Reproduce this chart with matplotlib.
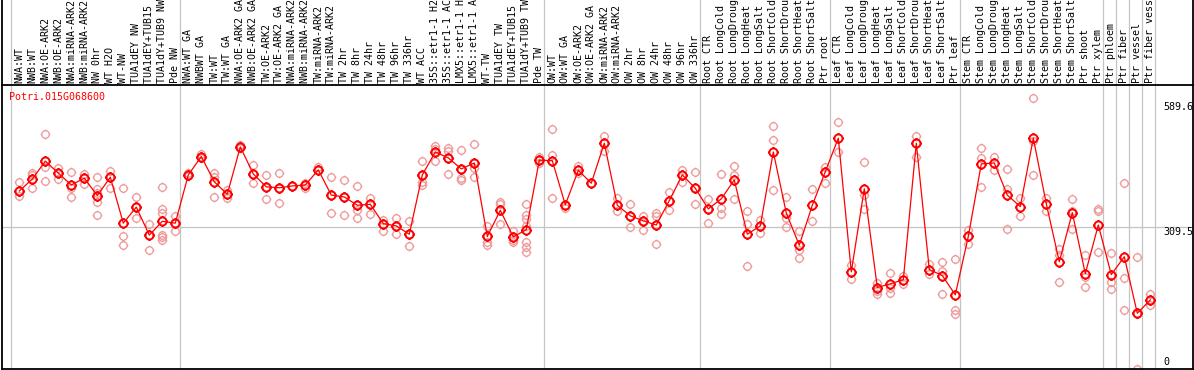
import matplotlib
matplotlib.use("Agg")
import matplotlib.pyplot as plt
from matplotlib.path import Path
from matplotlib.lines import Line2D

# ---------------- data ----------------
title = "Potri.015G068600"

nw_labels = ["NWA:WT", "NWB:WT", "NWA:OE-ARK2", "NWB:OE-ARK2", "NWA:miRNA-ARK2",
             "NWB:miRNA-ARK2", "NW 0hr", "WT H2O", "WT-NW", "TUA1dEY NW",
             "TUA1dEY+TUB15 NW", "TUA1dY+TUB9 NW", "Pde NW"]
nw_means = [388, 414, 453, 427, 401, 416, 378, 418, 318, 353, 292, 322, 318]
nw_reps = [[407, 387, 378], [428, 423, 394], [512, 440, 410], [439, 427, 414],
           [429, 394, 376], [425, 416, 403], [418, 393, 384, 365, 336],
           [432, 418, 394], [394, 289, 270], [376, 353, 329], [316, 292, 259],
           [396, 349, 340, 293, 288, 282], [333, 318, 302]]

tw_labels = ["NWA:WT GA", "NWBWT GA", "TW:WT", "TW:WT GA", "NWA:OE-ARK2 GA",
             "NWB:OE-ARK2 GA", "TW:OE-ARK2", "TW:OE-ARK2 GA", "NWA:miRNA-ARK2 GA",
             "NWB:miRNA-ARK2 GA", "TW:miRNA-ARK2", "TW:miRNA-ARK2 GA", "TW 2hr",
             "TW 8hr", "TW 24hr", "TW 48hr", "TW 96hr", "TW 336hr", "WT ACC",
             "35S::etr1-1 H2O", "35S::etr1-1 ACC", "LMX5::etr1-1 H2O",
             "LMX5::etr1-1 ACC", "WT-TW", "TUA1dEY TW", "TUA1dEY+TUB15 TW",
             "TUA1dY+TUB9 TW", "Pde TW"]
tw_means = [423, 463, 408, 381, 484, 425, 397, 395, 399, 401, 434, 379, 375, 357,
            359, 317, 312, 294, 423, 473, 460, 436, 449, 289, 346, 288, 304, 455]
tw_reps = [[427, 421], [469, 460], [427, 418, 375], [391, 381, 372], [489, 481],
           [445, 425, 405], [423, 397, 371], [428, 395, 362], [399], [405, 394],
           [440, 434], [418, 379, 340], [412, 375, 336], [399, 357, 346, 329],
           [372, 359, 338], [325, 317, 301], [330, 312, 294], [323, 294, 269],
           [454, 423, 408, 402], [485, 479, 473, 454], [481, 476, 460, 425],
           [478, 436, 417, 411], [490, 449, 439, 418], [312, 289, 278, 271],
           [365, 359, 346, 316], [300, 288, 282, 277],
           [359, 336, 328, 311, 278, 267, 255], [463, 455, 449]]

ow_labels = ["OW:WT", "OW:WT GA", "OW:OE-ARK2", "OW:OE-ARK2 GA", "OW:miRNA-ARK2",
             "OW:miRNA-ARK2 GA", "OW 2hr", "OW 8hr", "OW 24hr", "OW 48hr",
             "OW 96hr", "OW 336hr"]
ow_means = [454, 358, 433, 405, 492, 357, 334, 323, 314, 367, 423, 394]
ow_reps = [[523, 467, 454, 373], [358, 350], [443, 433, 427], [405],
           [508, 492, 474], [372, 357, 345], [359, 334, 310], [333, 323, 304],
           [341, 334, 314, 273], [385, 367, 346], [434, 423, 407], [430, 394, 360]]

root_labels = ["Root CTR", "Root LongCold", "Root LongDrought", "Root LongHeat",
               "Root LongSalt", "Root ShortCold", "Root ShortDrought",
               "Root ShortHeat", "Root ShortSalt", "Ptr root"]
root_means = [349, 371, 412, 294, 312, 473, 340, 270, 357, 430]
root_reps = [[371, 349, 318], [425, 351, 338], [443, 423, 370], [345, 317, 224],
             [324, 312, 296], [530, 499, 391], [376, 330, 309], [301, 260, 243],
             [393, 323], [441, 405]]

leaf_labels = ["Leaf CTR", "Leaf LongCold", "Leaf LongDrought", "Leaf LongHeat",
               "Leaf LongSalt", "Leaf ShortCold", "Leaf ShortDrought",
               "Leaf ShortHeat", "Leaf ShortSalt", "Ptr leaf"]
leaf_means = [503, 212, 393, 178, 186, 195, 492, 217, 204, 162]
leaf_reps = [[538, 473], [227, 212, 196], [452, 379, 349], [188, 178, 171, 164],
             [209, 178, 165], [202, 185], [508, 492, 463], [230, 208],
             [234, 213, 164], [240, 130, 121]]

stem_labels = ["Stem CTR", "Stem LongCold", "Stem LongDrought", "Stem LongHeat",
               "Stem LongSalt", "Stem ShortCold", "Stem ShortDrought",
               "Stem ShortHeat", "Stem ShortSalt", "Ptr shoot", "Ptr xylem"]
stem_means = [289, 447, 449, 379, 354, 503, 360, 234, 341, 208, 314]
stem_reps = [[304, 289, 273], [481, 460, 396], [463, 433], [436, 392, 305],
             [372, 334], [589.6, 496, 423], [372, 344], [262, 248, 190],
             [370, 345, 305], [249, 200, 180], [349, 344, 255]]

ptr_labels = ["Ptr phloem", "Ptr fiber", "Ptr vessel", "Ptr fiber vessel"]
ptr_means = [206, 245, 122, 151]
ptr_reps = [[253, 191, 175], [405, 198, 130], [244, 120, 0], [164, 151, 140]]

y_ticks = [0, 309.5, 589.6]

groups = [(nw_labels, nw_means, nw_reps), (tw_labels, tw_means, tw_reps),
          (ow_labels, ow_means, ow_reps), (root_labels, root_means, root_reps),
          (leaf_labels, leaf_means, leaf_reps), (stem_labels, stem_means, stem_reps)]
# the four Ptr tissue samples are each their own group
for lab, m, r in zip(ptr_labels, ptr_means, ptr_reps):
    groups.append(([lab], [m], [r]))

# ---------------- figure ----------------
W, H = 1194, 370
fig = plt.figure(figsize=(W / 100, H / 100), dpi=100)
ax_left, ax_right = 1.5, 1192.5      # px
ax_top, ax_bot = 85.3, 369.3         # px from top
ax = fig.add_axes([ax_left / W, (H - ax_bot) / H,
                   (ax_right - ax_left) / W, (ax_bot - ax_top) / H])

mono = "DejaVu Sans Mono"
red = "#ff0000"
pink = "#ee9a9a"
grid = "#c4c4c4"

# marker: circle with four small ticks
circ = Path.unit_circle()
verts = list(circ.vertices)
codes = list(circ.codes)
for x0, y0, x1, y1 in [(0, 1, 0, 1.3), (0, -1, 0, -1.3), (1, 0, 1.3, 0), (-1, 0, -1.3, 0)]:
    verts += [(x0, y0), (x1, y1)]
    codes += [Path.MOVETO, Path.LINETO]
tick_circle = Path(verts, codes)

labels, means = [], []
xpos = 0
boundaries = [0]
rep_x, rep_y = [], []
for labs, m, r in groups:
    for k in range(len(labs)):
        labels.append(labs[k])
        means.append(m[k])
        for v in r[k]:
            rep_x.append(xpos + k)
            rep_y.append(v)
    xpos += len(labs)
    boundaries.append(xpos)

xs = list(range(len(means)))
col_w = 13.0
x0px = 19.3
ax.set_xlim((ax_left - x0px) / col_w, (ax_right - x0px) / col_w)
ax.set_ylim(0, 618)

# grid / separators
ax.axhline(y_ticks[1], color=grid, lw=0.9, zorder=1)
top_frac = (ax_bot) / (ax_bot - ax_top)
for b in boundaries:
    ax.axvline(b - 0.62, ymin=0, ymax=top_frac, color=grid, lw=0.9,
               clip_on=False, zorder=1)

# replicates
ax.plot(rep_x, rep_y, linestyle="none", marker=tick_circle, markersize=7.0,
        markerfacecolor="none", markeredgecolor=pink, markeredgewidth=0.95,
        zorder=2, clip_on=True)
# mean line
ax.plot(xs, means, color=red, lw=0.9, zorder=3)
ax.plot(xs, means, linestyle="none", marker=tick_circle, markersize=7.6,
        markerfacecolor="none", markeredgecolor=red, markeredgewidth=1.4, zorder=4)

# x labels at top
ax.set_xticks(xs)
ax.set_xticklabels(labels, rotation=90, fontfamily=mono, fontsize=7.2)
ax.tick_params(axis="x", top=True, bottom=False, labeltop=True, labelbottom=False,
               length=0, pad=1.6)
ax.set_yticks([])

for sp in ax.spines.values():
    sp.set_color("black")
    sp.set_linewidth(1.3)
ax.spines["left"].set_bounds(0, 618)

# extend left and right border into the label area
for xf in (0, 1):
    ax.add_line(Line2D([xf, xf], [1, top_frac], transform=ax.transAxes,
                       color="black", lw=1.3, clip_on=False))

# right-side value labels
offsets = {0: 5.5, 309.5: -3.4, 589.6: -6.0}
for v in y_ticks:
    ax.annotate(f"{v:g}", xy=((1163 - ax_left) / (ax_right - ax_left), v),
                xycoords=("axes fraction", "data"), xytext=(0, offsets[v]),
                textcoords="offset points", ha="left", va="center",
                fontfamily=mono, fontsize=7.2, color="black", annotation_clip=False)

# gene title
fig.text(9.5 / W, 1 - 96.5 / H, title, color=red, fontfamily=mono, fontsize=7.2,
         ha="left", va="center")

fig.savefig("out.png", dpi=100)
